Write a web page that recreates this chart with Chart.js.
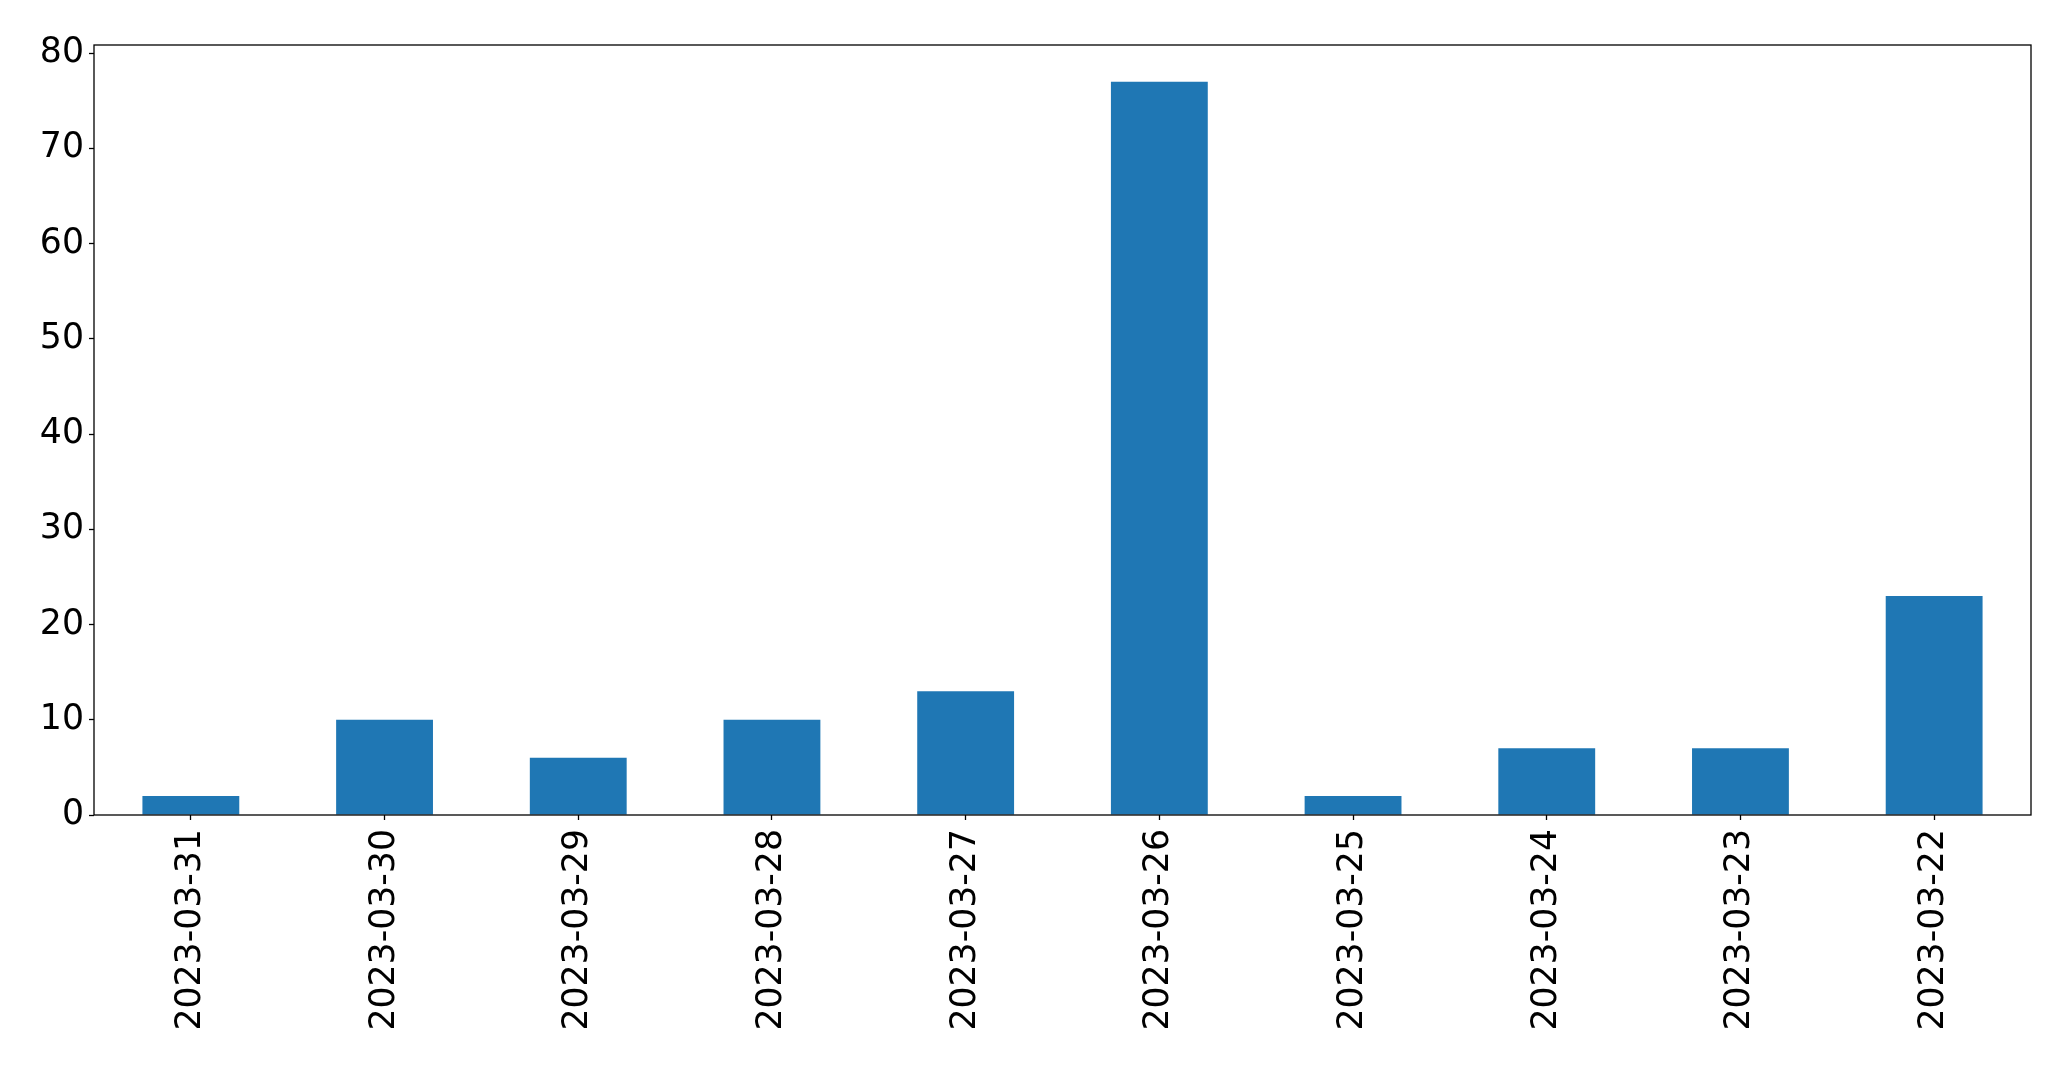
<!DOCTYPE html>
<html>
<head>
<meta charset="utf-8">
<script src="https://cdn.jsdelivr.net/npm/chart.js@4/dist/chart.umd.min.js"></script>
<style>
  html, body { margin: 0; padding: 0; background: #fff; }
  #chart { display: block; }
</style>
</head>
<body>
<canvas id="chart" width="2071" height="1067"></canvas>
<script>
// DATA
const dates = ['2023-03-31', '2023-03-30', '2023-03-29', '2023-03-28', '2023-03-27',
               '2023-03-26', '2023-03-25', '2023-03-24', '2023-03-23', '2023-03-22'];
const counts = [2, 10, 6, 10, 13, 77, 2, 7, 7, 23];
const yTicks = [0, 10, 20, 30, 40, 50, 60, 70, 80];

// frame around the plot area, like matplotlib spines
const frame = {
    id: 'frame',
    afterDatasetsDraw(chart) {
        const a = chart.chartArea;
        const c = chart.ctx;
        c.save();
        c.strokeStyle = '#000';
        c.lineWidth = 1.3;
        c.strokeRect(a.left, a.top, a.right - a.left, a.bottom - a.top);
        c.restore();
    }
};

const ctx = document.getElementById('chart').getContext('2d');
Chart.defaults.font.family = 'DejaVu Sans';
Chart.defaults.color = '#000';

new Chart(ctx, {
    type: 'bar',
    data: {
        labels: dates,
        datasets: [{
            data: counts,
            backgroundColor: '#1f77b4',
            borderWidth: 0,
            categoryPercentage: 1.0,
            barPercentage: 0.5
        }]
    },
    options: {
        responsive: false,
        animation: false,
        layout: { padding: { top: 45, right: 40, left: 0, bottom: 0 } },
        plugins: {
            legend: { display: false },
            tooltip: { enabled: false }
        },
        scales: {
            x: {
                offset: true,
                grid: {
                    offset: false,
                    drawOnChartArea: false,
                    drawTicks: true,
                    tickLength: 5,
                    tickColor: '#000',
                    tickWidth: 1.3
                },
                border: { display: false },
                ticks: {
                    font: { size: 34.7 },
                    minRotation: 90,
                    maxRotation: 90,
                    padding: 9,
                    autoSkip: false
                },
                afterFit(scale) { scale.height = 252; }
            },
            y: {
                min: 0,
                max: 80.85,
                afterBuildTicks(scale) {
                    scale.ticks = yTicks.map(v => ({ value: v }));
                },
                grid: {
                    drawOnChartArea: false,
                    drawTicks: true,
                    tickLength: 5,
                    tickColor: '#000',
                    tickWidth: 1.3
                },
                border: { display: false },
                ticks: {
                    font: { size: 34.7 },
                    padding: 5
                },
                afterFit(scale) { scale.width = 94; }
            }
        }
    },
    plugins: [frame]
});
</script>
</body>
</html>
